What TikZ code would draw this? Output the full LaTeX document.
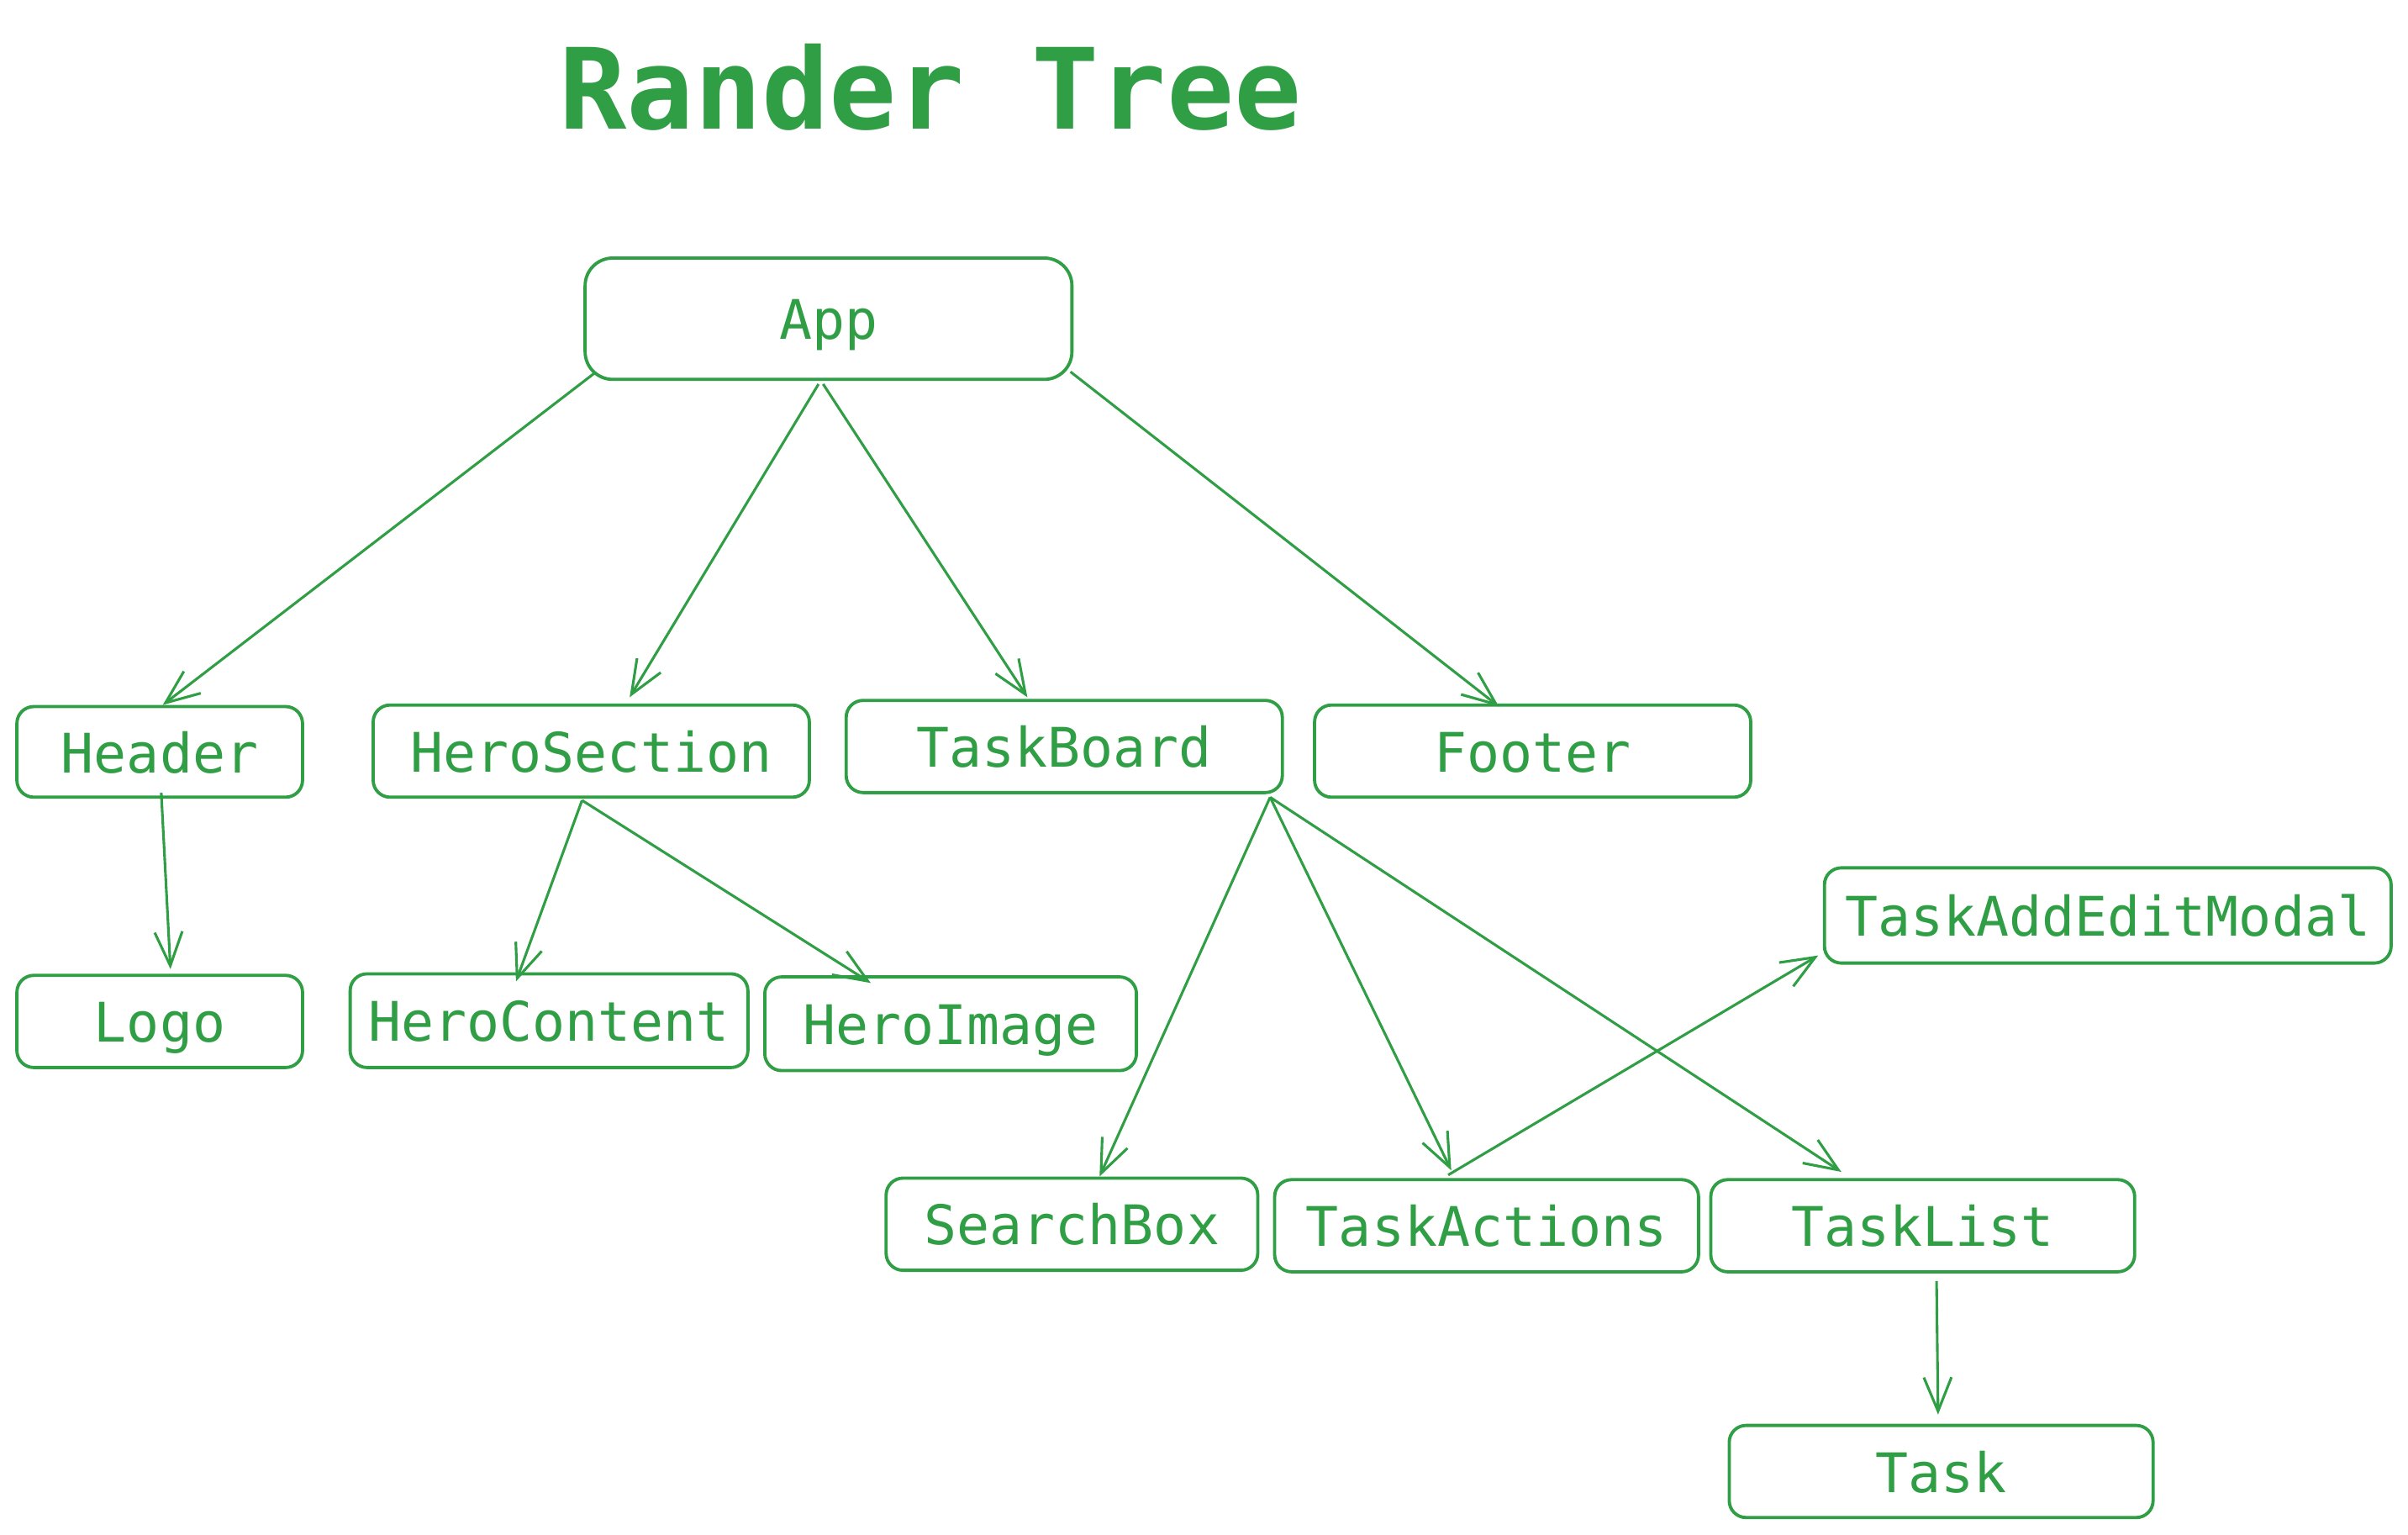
\documentclass[tikz,border=0pt]{standalone}
\usepackage{fontspec}
\setmonofont{DejaVu Sans Mono}
\newfontfamily\boxfont{DejaVu Sans Mono}
\usetikzlibrary{arrows.meta,calc}
\definecolor{exgreen}{HTML}{2F9E44}
\begin{document}
\begin{tikzpicture}[x=1pt,y=-1pt,
  tbox/.style={draw=exgreen, line width=2.1pt, rounded corners=11pt, inner sep=0pt,
     minimum height=60pt, text=exgreen, font=\boxfont\fontsize{35.5pt}{40pt}\selectfont,
     text height=27pt, text depth=0pt},
  conn/.style={draw=exgreen, line width=1.7pt,
     -{Straight Barb[length=22pt,width=18pt,line width=1.7pt]}}]
\useasboundingbox (0,0) rectangle (1568,999);
\node[text=exgreen, font=\boxfont\bfseries\fontsize{73pt}{80pt}\selectfont, inner sep=0pt,
  text height=54pt, text depth=0pt] (title) at (606,57) {Rander Tree};

\node[tbox, minimum width=317pt, minimum height=79pt, rounded corners=18pt] (app) at (539.5,207.5) {App};
\node[tbox, minimum width=186pt, minimum height=59pt] (hdr) at (104,489.5) {Header};
\node[tbox, minimum width=284pt] (hs) at (385,489) {HeroSection};
\node[tbox, minimum width=284pt] (tb) at (693,486) {TaskBoard};
\node[tbox, minimum width=284pt] (ft) at (998,489) {Footer};
\node[tbox, minimum width=369pt, minimum height=62pt] (modal) at (1372.5,596) {TaskAddEditModal};
\node[tbox, minimum width=186pt] (logo) at (104,665) {Logo};
\node[tbox, minimum width=259pt, minimum height=61pt] (hc) at (357.5,664.5) {HeroContent};
\node[tbox, minimum width=242pt, minimum height=61pt] (hi) at (619,666.5) {HeroImage};
\node[tbox, minimum width=242pt] (sb) at (698,797) {SearchBox};
\node[tbox, minimum width=276pt] (ta) at (968,798) {TaskActions};
\node[tbox, minimum width=276pt] (tl) at (1252,798) {TaskList};
\node[tbox, minimum width=276pt] (task) at (1264,958) {Task};

\draw[conn] ([xshift=7pt,yshift=5pt]app.south west) -- ([xshift=2pt]hdr.north);
\draw[conn] ([xshift=-6.5pt,yshift=-2pt]app.south) -- ([xshift=25pt,yshift=4pt]hs.north);
\draw[conn] ([xshift=-3.5pt,yshift=-2pt]app.south) -- ([xshift=-24pt,yshift=1pt]tb.north);
\draw[conn] ([xshift=-2pt,yshift=6pt]app.south east) -- ([xshift=-22pt,yshift=-2pt]ft.north);
\draw[conn] ([xshift=1pt,yshift=4pt]hdr.south) -- ([xshift=7pt,yshift=3pt]logo.north);
\draw[conn] ([xshift=-6pt,yshift=-1pt]hs.south) -- ([xshift=-21.5pt,yshift=-6pt]hc.north);
\draw[conn] ([xshift=-6pt,yshift=-1pt]hs.south) -- ([xshift=-52pt,yshift=-5pt]hi.north);
\draw[conn] ([xshift=-9pt,yshift=-2pt]tb.south east) -- ([xshift=18pt]sb.north);
\draw[conn] ([xshift=-9pt,yshift=-2pt]tb.south east) -- ([xshift=-23pt,yshift=5pt]ta.north);
\draw[conn] ([xshift=-9pt,yshift=-2pt]tb.south east) -- ([xshift=-53pt,yshift=4pt]tl.north);
\draw[conn] ([xshift=-25pt,yshift=2pt]ta.north) -- ([xshift=-3pt,yshift=6pt]modal.south west);
\draw[conn] ([xshift=9pt,yshift=-5pt]tl.south) -- ([xshift=-2pt,yshift=6pt]task.north);
\end{tikzpicture}
\end{document}
